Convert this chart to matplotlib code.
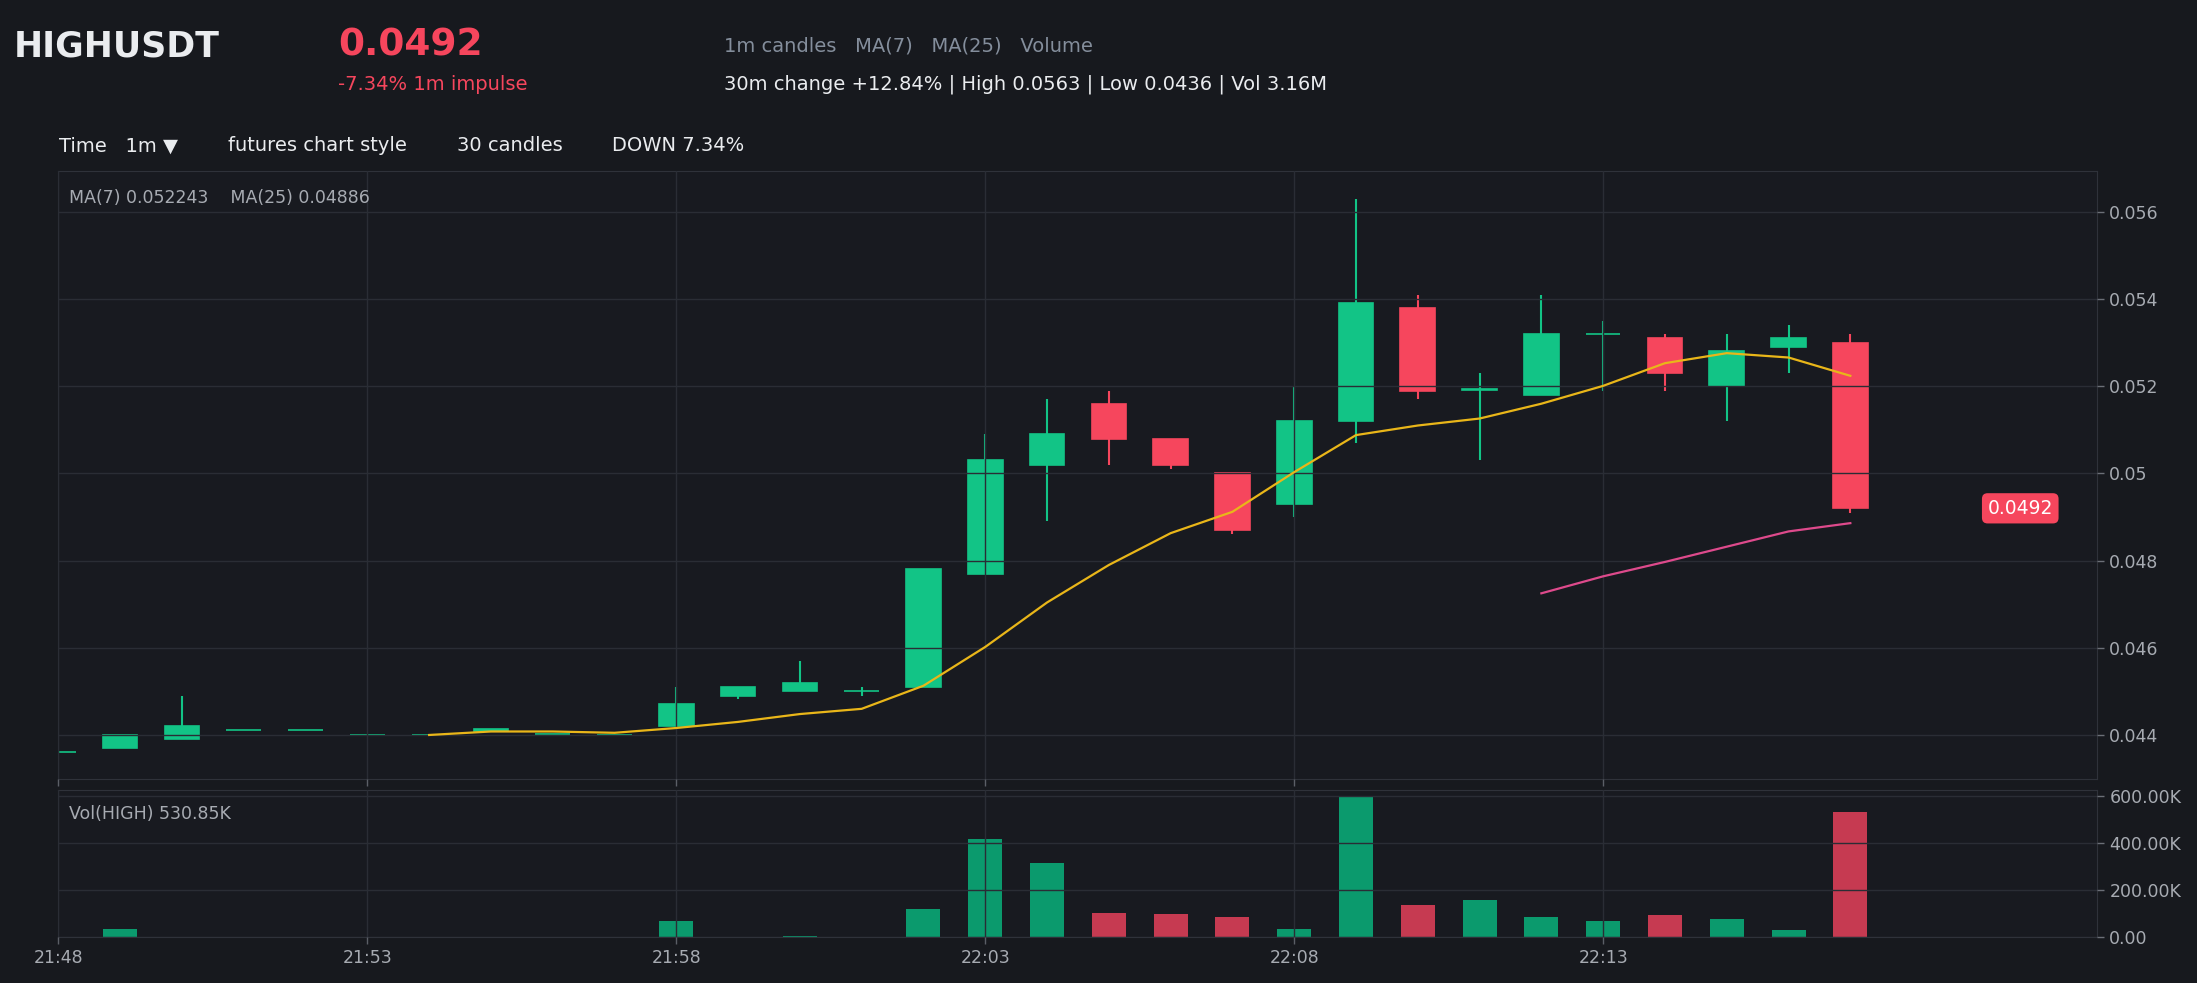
import numpy as np
import pandas as pd
import matplotlib
matplotlib.use('Agg')
import matplotlib.pyplot as plt

# 1m candles, 21:48 .. 22:17
times = pd.date_range('2024-01-01 21:48', periods=30, freq='min').strftime('%H:%M').tolist()

opens = [0.04360, 0.04370, 0.04390, 0.04412, 0.04412, 0.04400, 0.04400, 0.04408, 0.04402, 0.04400,
         0.04420, 0.04490, 0.04500, 0.04502, 0.04510, 0.04770, 0.05020, 0.05160, 0.05080, 0.05000,
         0.04930, 0.05120, 0.05380, 0.05192, 0.05180, 0.05320, 0.05310, 0.05200, 0.05290, 0.05300]
closes = [0.04361, 0.04400, 0.04420, 0.04412, 0.04412, 0.04400, 0.04400, 0.04413, 0.04402, 0.04400,
          0.04470, 0.04510, 0.04520, 0.04502, 0.04780, 0.05030, 0.05090, 0.05080, 0.05020, 0.04870,
          0.05120, 0.05390, 0.05190, 0.05193, 0.05320, 0.05321, 0.05230, 0.05280, 0.05310, 0.04920]
highs = [0.04362, 0.04400, 0.04490, 0.04412, 0.04412, 0.04400, 0.04400, 0.04413, 0.04402, 0.04400,
         0.04510, 0.04510, 0.04570, 0.04510, 0.04780, 0.05090, 0.05170, 0.05190, 0.05080, 0.05000,
         0.05200, 0.05630, 0.05410, 0.05230, 0.05410, 0.05350, 0.05320, 0.05320, 0.05340, 0.05320]
lows = [0.04360, 0.04370, 0.04390, 0.04412, 0.04412, 0.04400, 0.04400, 0.04408, 0.04402, 0.04400,
        0.04420, 0.04482, 0.04500, 0.04490, 0.04510, 0.04770, 0.04890, 0.05020, 0.05010, 0.04860,
        0.04900, 0.05070, 0.05170, 0.05030, 0.05180, 0.05190, 0.05190, 0.05120, 0.05230, 0.04910]
volumes = [300, 34000, 1500, 400, 400, 300, 300, 1000, 400, 300,
           68600, 1500, 5700, 1500, 120000, 415700, 317000, 102900, 98600, 85700,
           34000, 597000, 137000, 158600, 85700, 68600, 94000, 77000, 30000, 530850]

# moving averages as drawn
ma7_start = 6
ma7 = [0.04400, 0.04408, 0.04408, 0.04405, 0.04416, 0.04430, 0.04448, 0.04460, 0.04513, 0.04602,
       0.04704, 0.04790, 0.04863, 0.04912, 0.05003, 0.05088, 0.05110, 0.05126, 0.05160, 0.05201,
       0.05253, 0.05276, 0.05266, 0.05224]
ma25_start = 24
ma25 = [0.04725, 0.04764, 0.04797, 0.04832, 0.04867, 0.04886]

price_ticks = [0.044, 0.046, 0.048, 0.05, 0.052, 0.054, 0.056]
price_labels = ['0.044', '0.046', '0.048', '0.05', '0.052', '0.054', '0.056']
vol_ticks = [0, 200000, 400000, 600000]
vol_labels = ['0.00', '200.00K', '400.00K', '600.00K']

BG = '#17191e'
PANEL = '#181a20'
GRID = '#2a2d35'
SPINE = '#2f323a'
UP = '#12c486'
DOWN = '#f6465d'
VUP = '#0b9a6d'
VDOWN = '#c63a51'
TXT = '#a7abb2'

x = np.arange(len(opens))
o = np.array(opens)
c = np.array(closes)
up = c >= o
col = np.where(up, UP, DOWN)
vcol = np.where(up, VUP, VDOWN)

fig = plt.figure(figsize=(21.97, 9.83), dpi=100, facecolor=BG)
ax = fig.add_axes([0.02658, 0.20753, 0.92813, 0.61900])
axv = fig.add_axes([0.02658, 0.04680, 0.92813, 0.14954], sharex=ax)

for a in (ax, axv):
    a.set_facecolor(PANEL)
    for s in a.spines.values():
        s.set_color(SPINE)
    a.grid(True, color=GRID, lw=1)
    a.set_axisbelow(False)
    a.yaxis.tick_right()
    a.tick_params(colors=TXT, labelsize=12.5, length=5, width=1)
    a.tick_params(axis='x', colors='#5b5f67', labelcolor=TXT)
    a.tick_params(axis='y', colors='#6b6f77', labelcolor=TXT)

# candles
ax.vlines(x, lows, highs, colors=col, lw=1.5, zorder=1)
ax.bar(x, np.abs(c - o), bottom=np.minimum(o, c), width=0.56, color=col,
       edgecolor=col, linewidth=1.2, zorder=1)
ax.plot(x[ma7_start:], ma7, color='#e9b619', lw=1.6, zorder=3)
ax.plot(x[ma25_start:], ma25, color='#de4a8c', lw=1.6, zorder=3)

ax.set_xlim(0, 33)
ax.set_ylim(0.04299, 0.05695)
ax.set_yticks(price_ticks)
ax.set_yticklabels(price_labels)
ax.tick_params(axis='x', labelbottom=False)

ax.text(0.0052, 0.955, 'MA(7) 0.052243    MA(25) 0.04886', transform=ax.transAxes,
        color=TXT, fontsize=12.5, va='center', ha='left')
ax.text(31.75, closes[-1], '0.0492', color='white', fontsize=13.5, ha='center', va='center',
        bbox=dict(boxstyle='round,pad=0.3,rounding_size=0.3', fc=DOWN, ec='none'))

# volume
axv.bar(x, volumes, width=0.55, color=vcol, zorder=1)
axv.set_ylim(0, 626000)
axv.set_yticks(vol_ticks)
axv.set_yticklabels(vol_labels)
axv.set_xticks(x[::5])
axv.set_xticklabels(times[::5])
axv.text(0.0052, 0.837, 'Vol(HIGH) 530.85K', transform=axv.transAxes,
         color=TXT, fontsize=12.5, va='center', ha='left')

# header
fig.text(0.00637, 0.9532, 'HIGHUSDT', color='#eaecef', fontsize=25, fontweight='bold', va='center')
fig.text(0.1538, 0.9542, '0.0492', color=DOWN, fontsize=27, fontweight='bold', va='center')
fig.text(0.1538, 0.9145, '-7.34% 1m impulse', color=DOWN, fontsize=14, va='center')
fig.text(0.3295, 0.9532, '1m candles   MA(7)   MA(25)   Volume', color='#848e9c', fontsize=14, va='center')
fig.text(0.3295, 0.9145, '30m change +12.84% | High 0.0563 | Low 0.0436 | Vol 3.16M',
         color='#eaecef', fontsize=14, va='center')

fig.text(0.02685, 0.8515, 'Time   1m \u25bc', color='#eaecef', fontsize=14, va='center')
fig.text(0.1038, 0.8515, 'futures chart style', color='#eaecef', fontsize=14, va='center')
fig.text(0.2080, 0.8515, '30 candles', color='#eaecef', fontsize=14, va='center')
fig.text(0.2786, 0.8515, 'DOWN 7.34%', color='#eaecef', fontsize=14, va='center')

fig.savefig('out.png', dpi=100, facecolor=BG)
